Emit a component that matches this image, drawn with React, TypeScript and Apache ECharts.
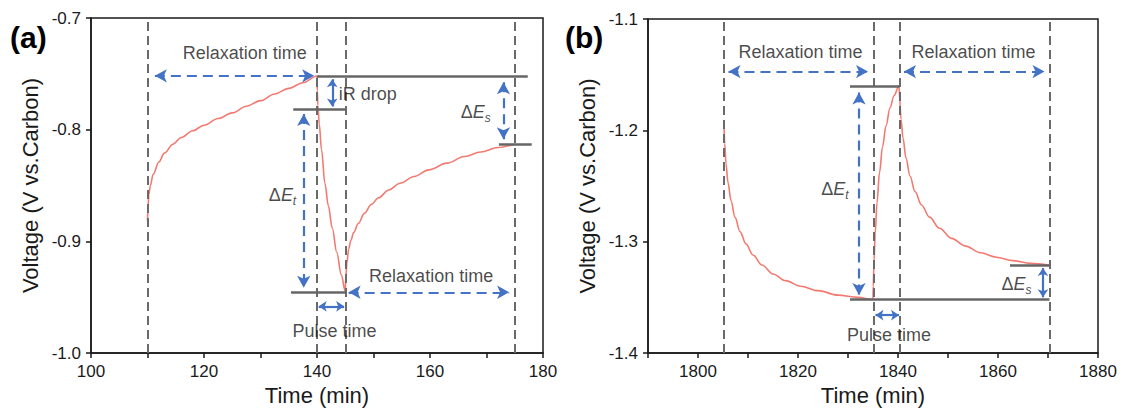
import React, { useEffect, useRef } from "react";
import * as echarts from "echarts";

const FONT = '"Liberation Sans", Arial, Helvetica, sans-serif';
const RED = "#f27a70";
const BLUE = "#4472c4";
const GREY = "#666666";
const DASH_GREY = "#6a6a6a";
const INK = "#1a1a1a";

// ---- Panel (a): potential transient, 100–180 min ----
const TIME_A = [
  110.0, 110.1, 110.25, 110.5, 111.0, 112.0, 113.0, 114.5, 116.0, 118.0, 120.0, 122.5, 125.0, 127.5, 130.0, 132.5, 135.0, 137.5, 140.0,
  140.05, 140.15, 140.4, 140.8, 141.4, 142.0, 142.7, 143.5, 144.3, 145.0,
  145.1, 145.3, 145.6, 146.0, 146.5, 147.3, 148.4, 149.6, 150.9, 152.7, 154.7, 157.2, 159.8, 163.0, 166.1, 169.0, 172.0, 175.0,
];
const VOLT_A = [
  -0.882, -0.868, -0.858, -0.85, -0.84, -0.829, -0.821, -0.813, -0.807, -0.801, -0.796, -0.79, -0.785, -0.779, -0.774, -0.768, -0.763, -0.758, -0.752,
  -0.765, -0.778, -0.795, -0.818, -0.848, -0.868, -0.888, -0.91, -0.93, -0.945,
  -0.932, -0.919, -0.907, -0.899, -0.892, -0.884, -0.875, -0.867, -0.861, -0.854, -0.848, -0.842, -0.836, -0.83, -0.824, -0.82, -0.816, -0.813,
];
const STEPS_A = [110, 140, 145, 175];
// level lines: [t start, t end, voltage]
const LEVELS_A = [
  [140.0, 177.3, -0.7518],
  [135.8, 145.0, -0.7817],
  [135.4, 145.0, -0.9455],
  [172.2, 178.0, -0.813],
];
// arrows: [t1, v1, t2, v2, dashed]
const ARROWS_A = [
  [111.3, -0.7518, 139.5, -0.7518, 1],
  [142.7, -0.7548, 142.7, -0.7792, 0],
  [137.65, -0.786, 137.65, -0.9415, 1],
  [173.0, -0.7575, 173.0, -0.8085, 1],
  [140.3, -0.9582, 144.8, -0.9582, 0],
  [145.6, -0.9456, 174.0, -0.9456, 1],
];
// annotations: [t, v, text]
const NOTES_A = [
  [127.2, -0.7314, "Relaxation time"],
  [149.0, -0.7682, "iR drop"],
  [133.9, -0.8585, "{d|Δ}{e|E}{s|t}"],
  [168.1, -0.7838, "{d|Δ}{e|E}{s|s}"],
  [143.1, -0.9806, "Pulse time"],
  [160.2, -0.9312, "Relaxation time"],
];

// ---- Panel (b): potential transient, 1790–1880 min ----
const TIME_B = [
  1805.2, 1805.35, 1805.6, 1806.0, 1806.6, 1807.4, 1808.4, 1809.6, 1811.0, 1812.8, 1815.0, 1817.5, 1820.5, 1824.0, 1828.0, 1832.0, 1835.0,
  1835.05, 1835.2, 1835.45, 1835.8, 1836.3, 1836.9, 1837.6, 1838.4, 1839.2, 1840.2,
  1840.35, 1840.6, 1841.0, 1841.6, 1842.4, 1843.4, 1844.7, 1846.3, 1848.3, 1850.7, 1853.5, 1856.5, 1859.7, 1863.0, 1866.5, 1870.2,
];
const VOLT_B = [
  -1.195, -1.212, -1.23, -1.247, -1.263, -1.278, -1.291, -1.302, -1.312, -1.321, -1.329, -1.335, -1.34, -1.344, -1.348, -1.35, -1.352,
  -1.34, -1.318, -1.292, -1.265, -1.238, -1.215, -1.196, -1.18, -1.169, -1.16,
  -1.172, -1.19, -1.207, -1.225, -1.241, -1.255, -1.267, -1.278, -1.288, -1.297, -1.304, -1.31, -1.314, -1.317, -1.3195, -1.321,
];
const STEPS_B = [1805.2, 1835.2, 1840.35, 1870.3];
const LEVELS_B = [
  [1830.4, 1840.3, -1.16],
  [1830.4, 1870.3, -1.352],
  [1862.4, 1870.3, -1.3209],
];
const ARROWS_B = [
  [1806.1, -1.1472, 1834.0, -1.1472, 1],
  [1841.2, -1.1472, 1869.3, -1.1472, 1],
  [1832.2, -1.166, 1832.2, -1.348, 1],
  [1869.0, -1.3237, 1869.0, -1.3500, 0],
  [1835.5, -1.366, 1840.2, -1.366, 0],
];
const NOTES_B = [
  [1820.5, -1.1292, "Relaxation time"],
  [1855.1, -1.1292, "Relaxation time"],
  [1827.4, -1.2526, "{d|Δ}{e|E}{s|t}"],
  [1863.7, -1.3383, "{d|Δ}{e|E}{s|s}"],
  [1838.2, -1.3835, "Pulse time"],
];

const X_TITLE = "Time (min)";
const Y_TITLE = "Voltage (V vs.Carbon)";

const richDelta = {
  d: { fontSize: 18, fontFamily: FONT, color: INK, lineHeight: 24 },
  e: { fontSize: 18, fontFamily: FONT, color: INK, fontStyle: "italic", lineHeight: 24 },
  s: { fontSize: 12, fontFamily: FONT, color: INK, fontStyle: "italic", lineHeight: 12, verticalAlign: "bottom" },
};

function xAxisOf(gridIndex: number, min: number, max: number) {
  return {
    gridIndex,
    type: "value",
    min,
    max,
    interval: 10,
    name: X_TITLE,
    nameLocation: "middle",
    nameGap: 30,
    nameTextStyle: { fontSize: 22, color: INK, fontFamily: FONT },
    axisLine: { onZero: false, lineStyle: { color: INK, width: 1.5 } },
    axisTick: { length: 5, lineStyle: { color: INK, width: 1.5 } },
    axisLabel: {
      fontSize: 17,
      color: INK,
      fontFamily: FONT,
      margin: 10,
      formatter: (v: number) => (Math.round(v) % 20 === 0 ? String(Math.round(v)) : ""),
    },
    splitLine: { show: false },
  };
}

function yAxisOf(gridIndex: number, min: number, max: number) {
  return {
    gridIndex,
    type: "value",
    min,
    max,
    interval: 0.1,
    name: Y_TITLE,
    nameLocation: "middle",
    nameGap: 50,
    nameTextStyle: { fontSize: 22, color: INK, fontFamily: FONT },
    axisLine: { onZero: false, lineStyle: { color: INK, width: 1.5 } },
    axisTick: { length: 5, lineStyle: { color: INK, width: 1.5 } },
    axisLabel: {
      fontSize: 17,
      color: INK,
      fontFamily: FONT,
      margin: 10,
      formatter: (v: number) => v.toFixed(1),
    },
    splitLine: { show: false },
  };
}

function panelSeries(
  idx: number,
  times: number[],
  volts: number[],
  steps: number[],
  levels: number[][],
  arrows: number[][],
  notes: (number | string)[][]
) {
  const axes = { xAxisIndex: idx, yAxisIndex: idx };
  return [
    {
      type: "line",
      ...axes,
      data: [],
      silent: true,
      z: 1,
      markLine: {
        silent: true,
        symbol: "none",
        label: { show: false },
        lineStyle: { color: DASH_GREY, width: 2, type: [9, 5] },
        data: steps.map((t) => ({ xAxis: t })),
      },
    },
    {
      type: "line",
      ...axes,
      data: times.map((t, i) => [t, volts[i]]),
      showSymbol: false,
      smooth: 0.35,
      smoothMonotone: "x",
      lineStyle: { color: RED, width: 1.6 },
      z: 3,
    },
    {
      type: "line",
      ...axes,
      data: [],
      silent: true,
      z: 4,
      markLine: {
        silent: true,
        symbol: "none",
        label: { show: false },
        lineStyle: { color: GREY, width: 2.5, type: "solid" },
        data: levels.map(([a, b, v]) => [{ coord: [a, v] }, { coord: [b, v] }]),
      },
    },
    {
      type: "line",
      ...axes,
      data: [],
      silent: true,
      z: 5,
      markLine: {
        silent: true,
        symbol: ["arrow", "arrow"],
        label: { show: false },
        data: arrows.map(([t1, v1, t2, v2, dashed]) => {
          const size = dashed ? [10, 12] : [8, 8];
          return [
            {
              coord: [t1, v1],
              symbolSize: size,
              lineStyle: { color: BLUE, width: 2.2, type: dashed ? [10, 6] : "solid" },
              itemStyle: { color: BLUE },
            },
            { coord: [t2, v2], symbolSize: size },
          ];
        }),
      },
    },
    {
      type: "scatter",
      ...axes,
      symbolSize: 0,
      silent: true,
      z: 6,
      data: notes.map(([t, v, text]) => ({
        value: [t, v],
        label: {
          show: true,
          position: "inside",
          formatter: text as string,
          fontSize: 18,
          color: INK,
          fontFamily: FONT,
          rich: richDelta,
        },
      })),
    },
  ];
}

export default function App() {
  const ref = useRef<HTMLDivElement>(null);

  useEffect(() => {
    document.body.style.margin = "0";
    if (!ref.current) return;
    const chart = echarts.init(ref.current, null, { renderer: "svg" });
    chart.setOption({
      animation: false,
      backgroundColor: "#ffffff",
      textStyle: { fontFamily: FONT },
      grid: [
        { left: 91, top: 18, width: 452, height: 335, show: true, borderColor: INK, borderWidth: 1.5, backgroundColor: "transparent" },
        { left: 648, top: 19, width: 450, height: 334, show: true, borderColor: INK, borderWidth: 1.5, backgroundColor: "transparent" },
      ],
      xAxis: [xAxisOf(0, 100, 180), xAxisOf(1, 1790, 1880)],
      yAxis: [yAxisOf(0, -1.0, -0.7), yAxisOf(1, -1.4, -1.1)],
      graphic: [
        { type: "text", left: 10, top: 22, style: { text: "(a)", font: `bold 30px ${FONT}`, fill: "#000" } },
        { type: "text", left: 565, top: 22, style: { text: "(b)", font: `bold 30px ${FONT}`, fill: "#000" } },
      ],
      series: [
        ...panelSeries(0, TIME_A, VOLT_A, STEPS_A, LEVELS_A, ARROWS_A, NOTES_A),
        ...panelSeries(1, TIME_B, VOLT_B, STEPS_B, LEVELS_B, ARROWS_B, NOTES_B),
      ],
    });
    return () => chart.dispose();
  }, []);

  return <div ref={ref} style={{ width: 1121, height: 412 }} />;
}
